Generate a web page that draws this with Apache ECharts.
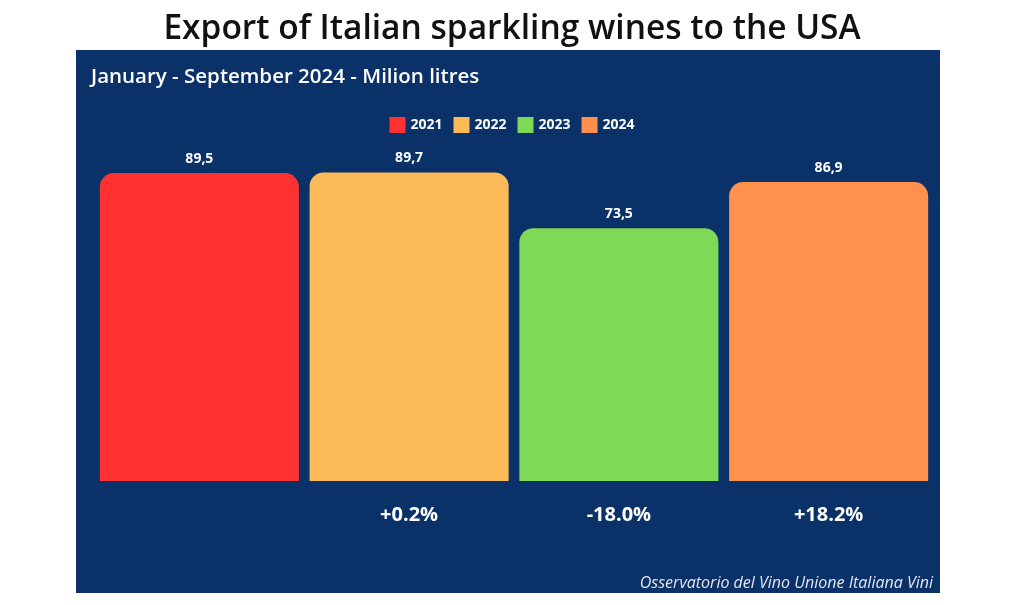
<!DOCTYPE html>
<html><head><meta charset="utf-8">
<script src="https://cdn.jsdelivr.net/npm/echarts@6/dist/echarts.min.js"></script>
<style>html,body{margin:0;padding:0;background:#fff}#c{width:1024px;height:605px}</style>
</head><body><div id="c"></div>
<script>
const categories = ['2021', '2022', '2023', '2024'];
const values = [89.5, 89.7, 73.5, 86.9];
const changes = ['', '+0.2%', '-18.0%', '+18.2%'];
const colors = ['#ff3131', '#fdba58', '#7ed957', '#ff914d'];

const chart = echarts.init(document.getElementById('c'));
const series = categories.map((name, i) => ({
  name: name,
  type: 'bar',
  barGap: '-100%',
  barCategoryGap: '5.1%',
  itemStyle: { color: colors[i], borderRadius: [14, 14, 0, 0] },
  label: {
    show: true, position: 'top', distance: 7, color: '#fff',
    fontFamily: 'Open Sans', fontWeight: 'bold', fontSize: 14,
    formatter: p => String(p.value).replace('.', ',')
  },
  data: values.map((v, j) => j === i ? v : null)
}));

chart.setOption({
  backgroundColor: '#fff',
  animation: false,
  graphic: [
    { type: 'rect', z: -10, shape: { x: 76, y: 50, width: 864, height: 543 }, style: { fill: '#0b3169' } },
    { type: 'text', right: 1024 - 933, top: 575, style: { text: 'Osservatorio del Vino Unione Italiana Vini', fill: '#e2e6ee', font: 'italic 16px "Open Sans"' } }
  ],
  title: [
    { text: 'Export of Italian sparkling wines to the USA', left: 'center', top: 7,
      textStyle: { color: '#111', fontFamily: 'Open Sans', fontWeight: 600, fontSize: 33.5 } },
    { text: 'January - September 2024 - Milion litres', left: 86, top: 62,
      textStyle: { color: '#fff', fontFamily: 'Open Sans', fontWeight: 600, fontSize: 20.5 } }
  ],
  legend: {
    top: 112, left: 'center', itemWidth: 16, itemHeight: 16, itemGap: 11,
    icon: 'rect',
    textStyle: { color: '#fff', fontFamily: 'Open Sans', fontWeight: 'bold', fontSize: 14 },
    data: categories
  },
  grid: { left: 94.5, right: 1024 - 933.5, top: 137, bottom: 124 },
  xAxis: {
    type: 'category', data: categories,
    axisLine: { show: false }, axisTick: { show: false },
    axisLabel: {
      margin: 24, color: '#fff', fontFamily: 'Open Sans', fontWeight: 'bold', fontSize: 20,
      formatter: (v, i) => changes[i]
    }
  },
  yAxis: { type: 'value', min: 0, max: 100, show: false, splitLine: { show: false } },
  series: series
});
</script></body></html>
